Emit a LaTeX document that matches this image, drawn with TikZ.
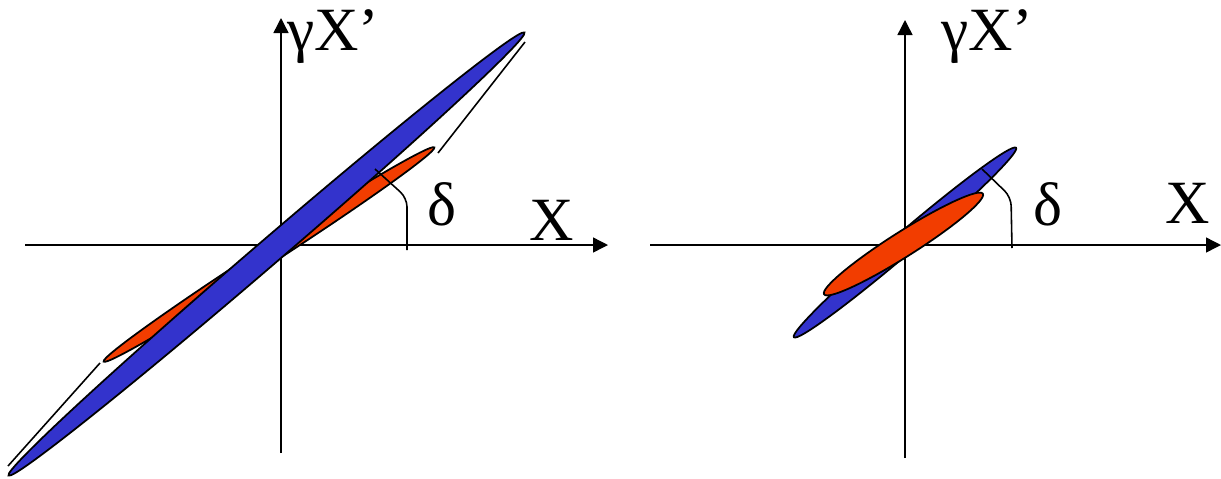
\documentclass[tikz,border=0pt]{standalone}
\usepackage{fontspec}
\setmainfont{Liberation Serif}
\usepackage{tikz}
\usetikzlibrary{arrows.meta,calc}
\definecolor{beamblue}{RGB}{51,51,204}
\definecolor{beamred}{RGB}{242,61,0}

\begin{document}
\begin{tikzpicture}[x=0.02cm, y=-0.02cm,
    axis/.style={line width=0.8pt, -{Triangle[length=0.3cm,width=0.3cm]}},
    blob/.style={draw=black, line width=1pt},
    guide/.style={line width=0.9pt},
    lbl/.style={inner sep=0, anchor=base west, font=\fontsize{35}{40}\selectfont}]
    \useasboundingbox (0,0) rectangle (1221,478);

    % left panel: axes
    \coordinate (xL0) at (25,245);
    \coordinate (xL1) at (608,245);
    \coordinate (yL0) at (281,453);
    \coordinate (yL1) at (281,18);
    \draw[axis] (xL0) -- (xL1);
    \draw[axis] (yL0) -- (yL1);

    % left panel: ellipses (blue on top)
    \coordinate (cLr) at (269,254.5);
    \coordinate (cLb) at (266.5,254);
    \filldraw[blob, fill=beamred, rotate around={32.93:(cLr)}] (cLr) ellipse [x radius=197, y radius=9];
    \filldraw[blob, fill=beamblue, rotate around={40.65:(cLb)}] (cLb) ellipse [x radius=340, y radius=12.5];

    % left panel: guide lines
    \coordinate (tL0) at (525,42);
    \coordinate (tL1) at (438,153);
    \coordinate (tL2) at (8,466);
    \coordinate (tL3) at (100,363);
    \draw[guide] (tL0) -- (tL1);
    \draw[guide] (tL2) -- (tL3);
    \coordinate (dL0) at (375,169);
    \coordinate (dL1) at (407,198);
    \coordinate (dL2) at (407,250);
    \draw[guide, rounded corners=5] (dL0) -- (dL1) -- (dL2);

    % left panel: labels
    \node[lbl] (gxL) at (287,50) {γX’};
    \node[lbl] (xlL) at (529,240) {X};
    \node[lbl] (dlL) at (427,225) {δ};

    % right panel: axes
    \coordinate (xR0) at (650,245);
    \coordinate (xR1) at (1221,245);
    \coordinate (yR0) at (905,458);
    \coordinate (yR1) at (905,20);
    \draw[axis] (xR0) -- (xR1);
    \draw[axis] (yR0) -- (yR1);

    % right panel: ellipses (red on top)
    \coordinate (cRb) at (905,242.5);
    \coordinate (cRr) at (903.5,244);
    \filldraw[blob, fill=beamblue, rotate around={40.45:(cRb)}] (cRb) ellipse [x radius=146, y radius=10.5];
    \filldraw[blob, fill=beamred, rotate around={32.36:(cRr)}] (cRr) ellipse [x radius=94, y radius=12.5];

    % right panel: guide line
    \coordinate (dR0) at (982,169);
    \coordinate (dR1) at (1011,197);
    \coordinate (dR2) at (1012,248);
    \draw[guide, rounded corners=5] (dR0) -- (dR1) -- (dR2);

    % right panel: labels
    \node[lbl] (gxR) at (941,50) {γX’};
    \node[lbl] (xlR) at (1165,223) {X};
    \node[lbl] (dlR) at (1033,225) {δ};
\end{tikzpicture}
\end{document}
